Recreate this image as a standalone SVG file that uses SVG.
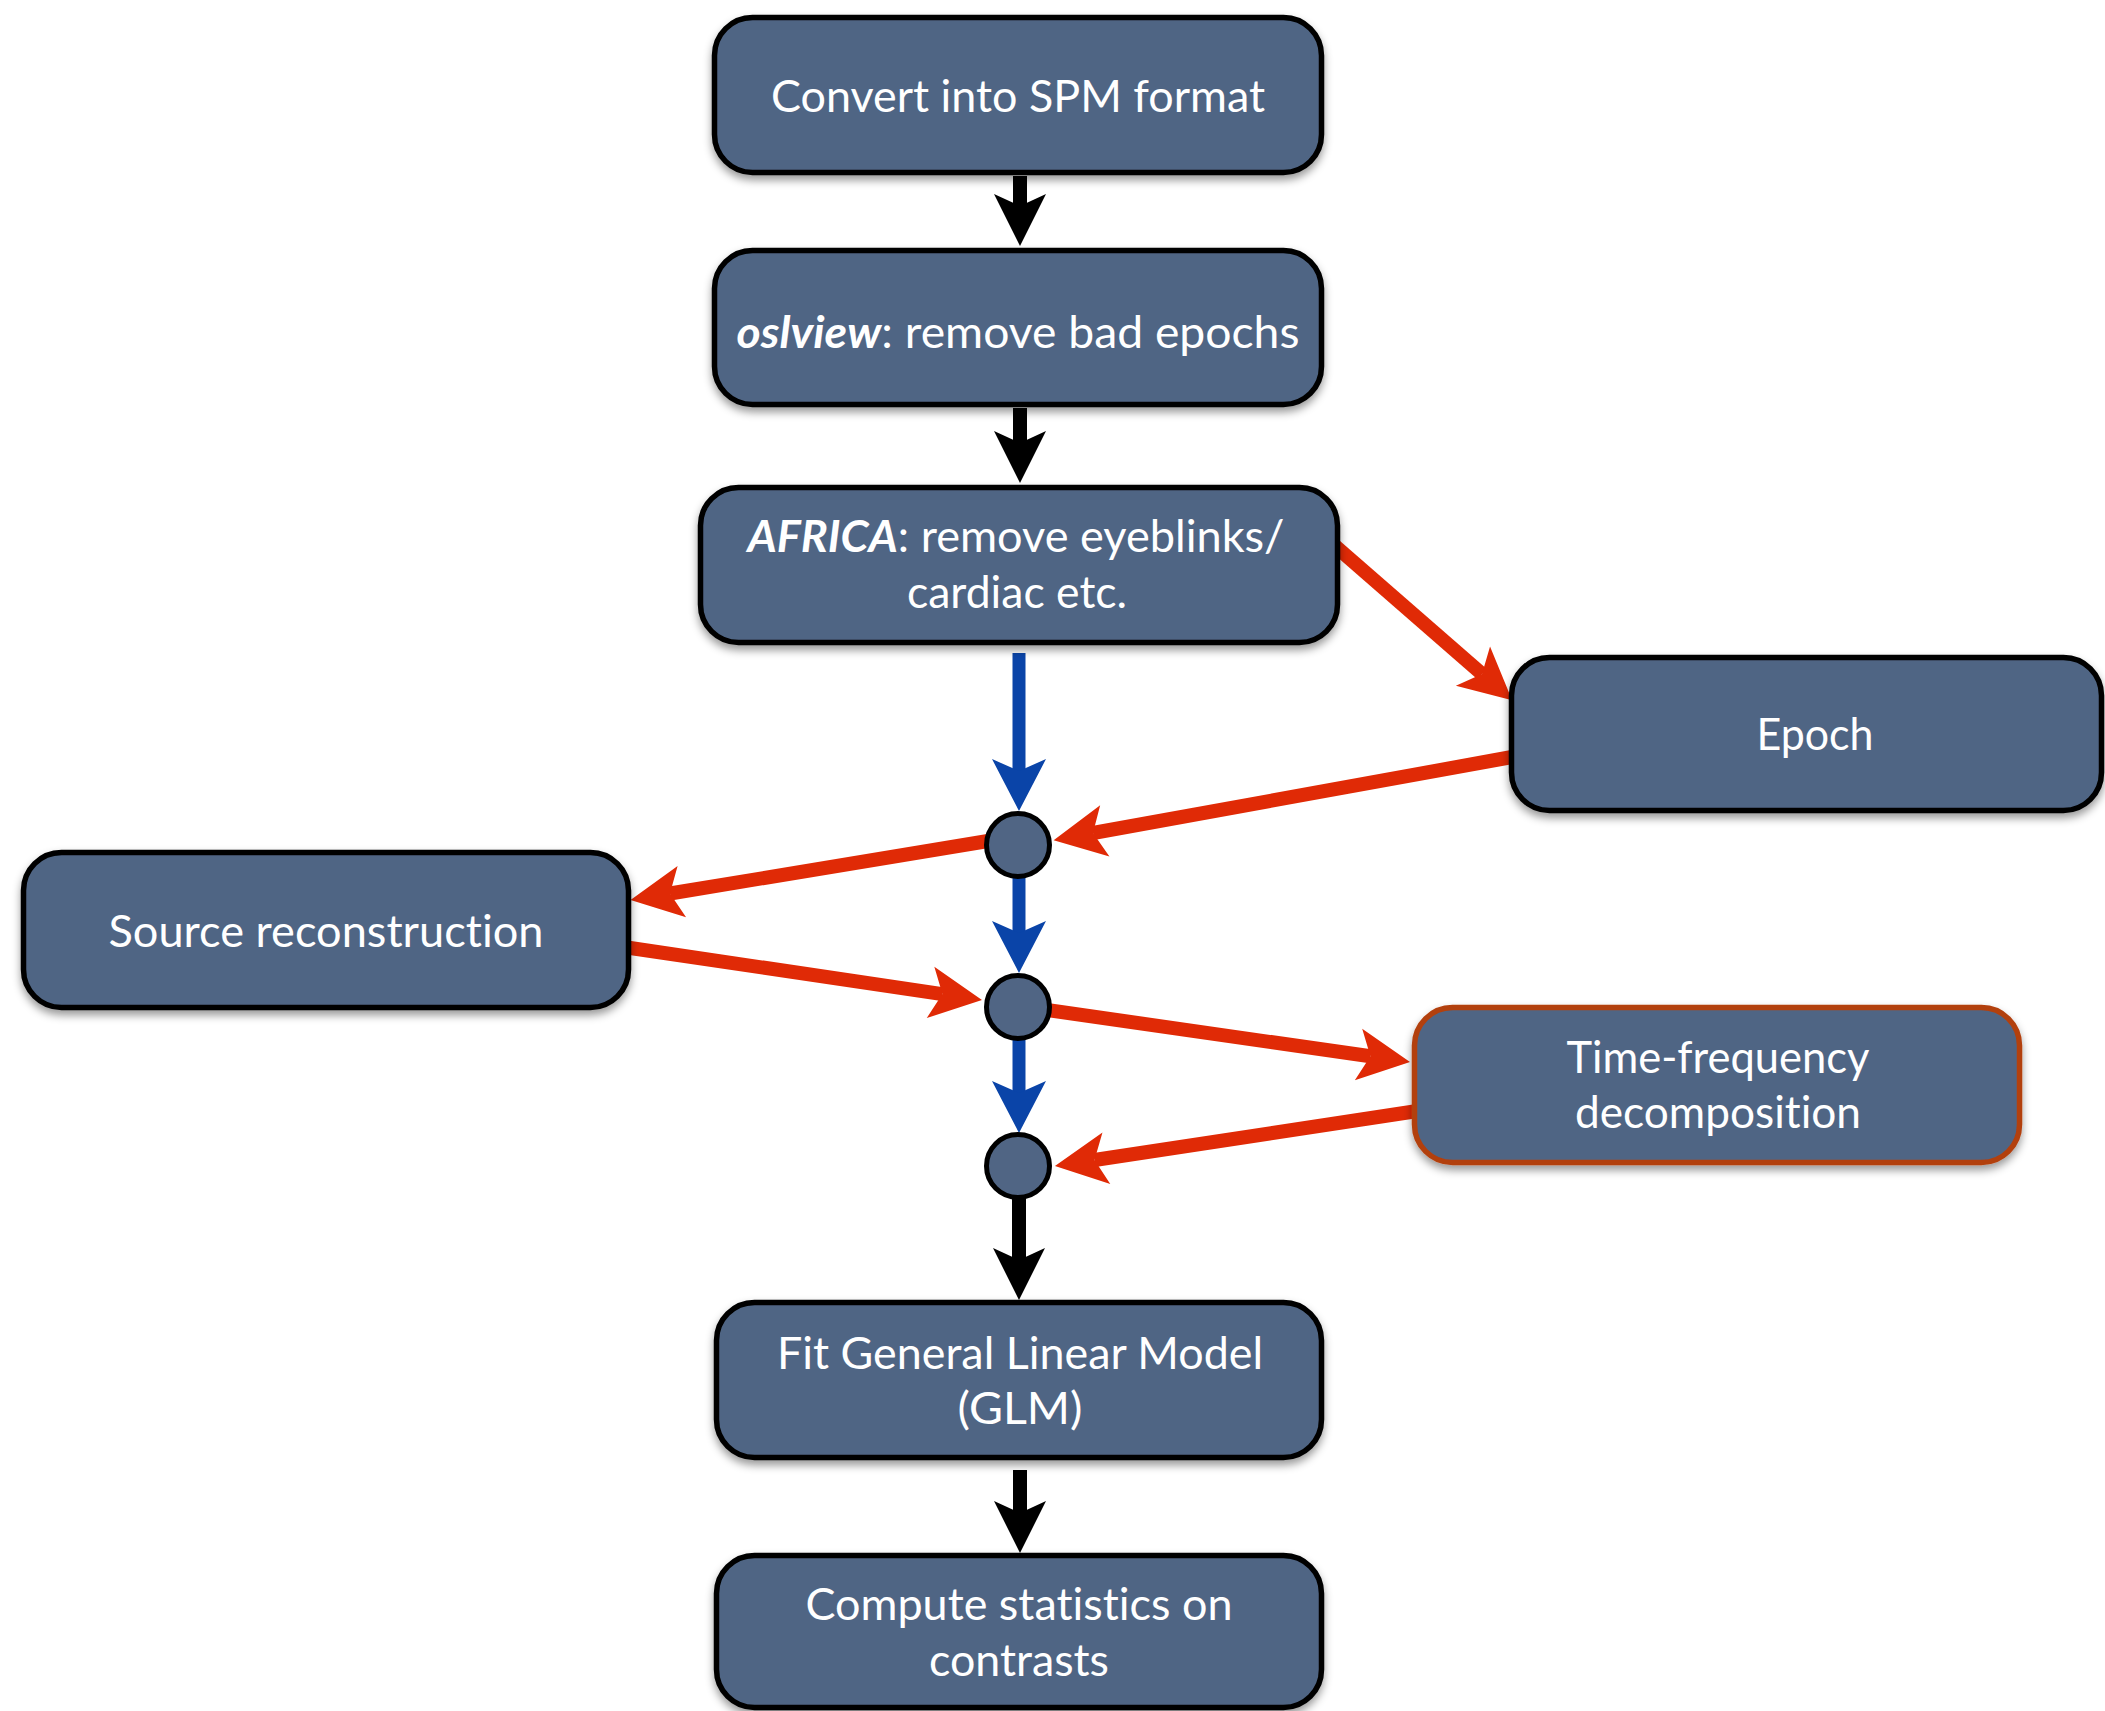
<svg xmlns="http://www.w3.org/2000/svg" width="2105" height="1711" viewBox="0 0 2105 1711">
<defs>
  <filter id="shadow" x="-10%" y="-10%" width="120%" height="130%">
    <feDropShadow dx="0" dy="5" stdDeviation="4" flood-color="#000" flood-opacity="0.4"/>
  </filter>
  <marker id="hBlack" markerUnits="userSpaceOnUse" markerWidth="120" markerHeight="120" refX="0" refY="0" orient="auto" overflow="visible">
    <path d="M40,0 L-12,-26 L0,0 L-12,26 Z" fill="#000"/>
  </marker>
  <marker id="hBlue" markerUnits="userSpaceOnUse" markerWidth="120" markerHeight="120" refX="0" refY="0" orient="auto" overflow="visible">
    <path d="M40,0 L-12,-27 L0,0 L-12,27 Z" fill="#0a44a8"/>
  </marker>
  <marker id="hRed" markerUnits="userSpaceOnUse" markerWidth="120" markerHeight="120" refX="0" refY="0" orient="auto" overflow="visible">
    <path d="M40,0 L-12,-26 L0,0 L-12,26 Z" fill="#e02a06"/>
  </marker>
</defs>
<style>
  .box { fill: #506584; stroke: #000; stroke-width: 5.5; filter: url(#shadow); }
  .boxTF { fill: #506584; stroke: #b2400f; stroke-width: 5.5; filter: url(#shadow); }
  .dot { fill: #506584; stroke: #000; stroke-width: 5; }
  .lbl { font-family: Lato, "Open Sans", "DejaVu Sans", sans-serif; font-size: 44px; fill: #fff; text-anchor: middle; font-variant-ligatures: none; font-feature-settings: "liga" 0, "clig" 0, "dlig" 0; }
  .bi { font-weight: bold; font-style: italic; }
  .cb { stroke: #000; stroke-width: 14; fill: none; marker-end: url(#hBlack); }
  .cu { stroke: #0a44a8; stroke-width: 13; fill: none; marker-end: url(#hBlue); }
  .cr { stroke: #e02a06; stroke-width: 14; fill: none; marker-end: url(#hRed); }
</style>
<rect width="2105" height="1711" fill="#fff"/>

<g id="connectors">
  <line class="cb" x1="1020" y1="176" x2="1020" y2="206"/>
  <line class="cb" x1="1020" y1="408" x2="1020" y2="443"/>
  <line class="cu" x1="1019" y1="653" x2="1019" y2="771"/>
  <line class="cu" x1="1019" y1="870" x2="1019" y2="933"/>
  <line class="cu" x1="1019" y1="1030" x2="1019" y2="1093"/>
  <line class="cb" x1="1019" y1="1190" x2="1019" y2="1260"/>
  <line class="cb" x1="1020" y1="1470" x2="1020" y2="1513"/>
  <line class="cr" x1="1334" y1="545" x2="1482" y2="674"/>
  <line class="cr" x1="1512" y1="757" x2="1093" y2="833"/>
  <line class="cr" x1="1000" y1="839" x2="670" y2="893.5"/>
  <line class="cr" x1="627" y1="947.5" x2="942.4" y2="994.1"/>
  <line class="cr" x1="1040" y1="1009" x2="1370.4" y2="1056.3"/>
  <line class="cr" x1="1414" y1="1111.5" x2="1094.5" y2="1160"/>
</g>

<g id="node-convert">
  <rect class="box" x="714.5" y="17.5" width="607" height="155" rx="38"/>
  <text class="lbl" x="1018" y="112" textLength="494" lengthAdjust="spacingAndGlyphs">Convert into SPM format</text>
</g>
<g id="node-oslview">
  <rect class="box" x="714.5" y="250.5" width="607" height="154" rx="38"/>
  <text class="lbl" x="1018" y="348" textLength="563" lengthAdjust="spacingAndGlyphs"><tspan class="bi">oslview</tspan>: remove bad epochs</text>
</g>
<g id="node-africa">
  <rect class="box" x="700.5" y="487.5" width="637" height="155" rx="38"/>
  <text class="lbl" x="1016" y="552" textLength="537" lengthAdjust="spacingAndGlyphs"><tspan class="bi">AFRICA</tspan>: remove eyeblinks/</text>
  <text class="lbl" x="1017" y="608" textLength="220" lengthAdjust="spacingAndGlyphs">cardiac etc.</text>
</g>
<g id="node-epoch">
  <rect class="box" x="1511.5" y="657.5" width="590" height="153" rx="38"/>
  <text class="lbl" x="1815" y="750" textLength="117" lengthAdjust="spacingAndGlyphs">Epoch</text>
</g>
<g id="node-source">
  <rect class="box" x="23.5" y="852.5" width="605" height="155" rx="38"/>
  <text class="lbl" x="326" y="947" textLength="435" lengthAdjust="spacingAndGlyphs">Source reconstruction</text>
</g>
<g id="node-timefreq">
  <rect class="boxTF" x="1414.5" y="1007.5" width="605" height="155" rx="38"/>
  <text class="lbl" x="1718" y="1073" textLength="303" lengthAdjust="spacingAndGlyphs">Time-frequency</text>
  <text class="lbl" x="1718" y="1128" textLength="286" lengthAdjust="spacingAndGlyphs">decomposition</text>
</g>
<g id="node-j1">
  <circle class="dot" cx="1018" cy="845" r="31.5"/>
</g>
<g id="node-j2">
  <circle class="dot" cx="1018" cy="1007" r="31.5"/>
</g>
<g id="node-j3">
  <circle class="dot" cx="1018" cy="1166" r="31.5"/>
</g>
<g id="node-glm">
  <rect class="box" x="716.5" y="1302.5" width="605" height="155" rx="38"/>
  <text class="lbl" x="1020" y="1369" textLength="486" lengthAdjust="spacingAndGlyphs">Fit General Linear Model</text>
  <text class="lbl" x="1020" y="1424" textLength="125" lengthAdjust="spacingAndGlyphs">(GLM)</text>
</g>
<g id="node-stats">
  <rect class="box" x="716.5" y="1555.5" width="605" height="152" rx="38"/>
  <text class="lbl" x="1019" y="1620" textLength="427" lengthAdjust="spacingAndGlyphs">Compute statistics on</text>
  <text class="lbl" x="1019" y="1676" textLength="180" lengthAdjust="spacingAndGlyphs">contrasts</text>
</g>
</svg>
